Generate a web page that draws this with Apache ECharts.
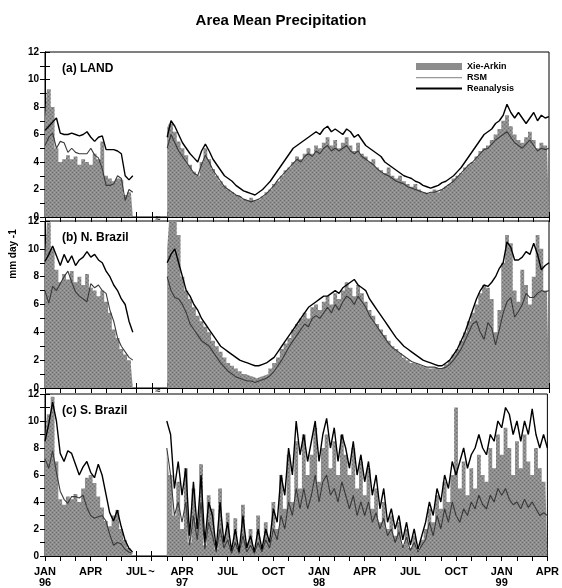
<!DOCTYPE html>
<html><head><meta charset="utf-8">
<script src="https://cdn.jsdelivr.net/npm/echarts@6/dist/echarts.min.js"></script>
<style>html,body{margin:0;padding:0;background:#fff}#c{width:562px;height:588px}</style>
</head><body><div id="c"></div>
<script>
// ---------- axis / labels ----------
const monthStep = 0.25;          // sampling step in months
const seg1Start = 0;             // JAN 96 on compressed axis
const seg2Start = 8;             // mid-MAR 97 on compressed axis (after break)
const tickPositions = [0, 3, 6, 7, 9, 12, 15, 18, 21, 24, 27, 30, 33];
const tickTexts = ['JAN\n96', 'APR', 'JUL', '~', 'APR\n97', 'JUL', 'OCT', 'JAN\n98', 'APR', 'JUL', 'OCT', 'JAN\n99', 'APR'];
const panelTitles = ['(a) LAND', '(b) N. Brazil', '(c) S. Brazil'];
const seriesNames = ['Xie-Arkin', 'RSM', 'Reanalysis'];

// ---------- (a) LAND ----------
const landXA1 = [7.2,9.3,8.0,5.0,4.0,4.2,4.5,4.2,4.4,3.8,4.2,4.0,3.8,4.6,4.2,5.5,3.0,2.8,2.6,2.8,2.7,1.6,1.8,1.7];
const landRE1 = [6.3,6.6,6.9,7.2,6.1,6.0,6.0,6.1,6.0,5.9,6.0,6.2,5.8,5.5,5.8,5.9,4.9,4.9,4.9,4.8,4.6,3.0,2.7,3.0];
const landRS1 = [5.2,5.8,6.1,5.0,5.5,5.4,4.7,5.0,4.7,4.6,4.6,4.6,5.0,4.5,4.3,3.5,2.3,2.3,2.4,3.0,2.8,1.2,2.0,1.8];
const landXA2 = [6.5,6.8,6.2,5.5, 5.0,4.5,3.8,3.3, 3.0,4.0,5.0,4.2, 3.5,3.0,2.6,2.3, 2.0,1.8,1.6,1.5, 1.3,1.2,1.4,1.2,
  1.3,1.5,1.8,2.0, 2.4,2.6,3.0,3.4, 3.6,4.0,4.4,4.2, 4.6,5.0,4.6,5.2, 5.0,5.4,5.8,5.2, 5.6,5.0,5.4,5.8, 5.2,4.8,5.4,4.6,
  4.4,4.0,4.2,3.6, 3.4,3.2,3.6,3.0, 2.8,3.0,2.6,2.4, 2.2,2.4,2.0,1.8, 1.7,1.8,2.0,1.8, 2.0,2.2,2.4,2.8, 3.0,3.2,3.6,3.8,
  4.0,4.4,4.8,5.0, 5.2,5.6,6.0,6.4, 7.0,7.4,6.6,6.0, 5.6,5.4,5.8,6.2, 5.6,5.0,5.4,5.2, 5.0];
const landRE2 = [5.8,7.0,6.6,6.0, 5.4,5.0,4.6,4.3, 4.0,4.8,5.3,4.8, 4.2,3.8,3.4,3.0, 2.8,2.6,2.3,2.1, 1.9,1.8,1.7,1.6,
  1.8,2.0,2.3,2.6, 3.0,3.4,3.8,4.2, 4.6,5.0,5.2,5.4, 5.6,5.8,6.0,6.2, 6.0,6.4,6.6,6.2, 6.4,6.2,6.0,6.4, 6.2,5.8,6.0,5.6,
  5.2,5.0,4.8,4.6, 4.4,4.0,3.8,3.6, 3.4,3.2,3.0,2.9, 2.8,2.6,2.5,2.3, 2.2,2.1,2.2,2.3, 2.5,2.6,2.8,3.0, 3.3,3.6,4.0,4.4,
  4.8,5.2,5.6,6.0, 6.2,6.4,6.8,7.0, 7.4,8.2,7.6,7.2, 7.6,7.2,6.8,7.2, 7.6,7.0,7.4,7.2, 7.3];
const landRS2 = [5.0,6.0,5.4,4.8, 4.4,4.0,3.6,3.2, 3.0,3.8,4.5,4.0, 3.4,3.0,2.6,2.2, 2.0,1.8,1.6,1.5, 1.3,1.2,1.1,1.2,
  1.3,1.5,1.7,2.0, 2.3,2.7,3.0,3.3, 3.6,3.9,4.2,4.0, 4.4,4.6,4.4,4.8, 4.6,5.0,5.2,4.8, 5.0,4.8,5.0,5.2, 4.8,4.6,4.8,4.4,
  4.2,4.0,3.8,3.5, 3.3,3.1,3.0,2.8, 2.6,2.5,2.4,2.2, 2.1,2.0,1.9,1.8, 1.7,1.8,1.8,1.9, 2.0,2.2,2.4,2.6, 2.9,3.2,3.5,3.8,
  4.0,4.3,4.6,4.9, 5.0,5.3,5.6,5.8, 6.0,6.2,5.8,5.4, 5.2,5.0,5.3,5.6, 5.2,4.8,5.0,4.9, 5.0];

// ---------- (b) N. Brazil ----------
const nbXA1 = [9.3,11.9,10.0,8.5,7.6,8.2,7.8,8.4,7.6,8.0,7.4,8.2,7.2,7.0,6.6,7.0,6.2,5.4,4.2,3.6,2.8,2.4,2.0,1.6];
const nbRE1 = [9.1,9.6,10.2,9.5,8.8,9.6,9.0,9.5,8.8,9.2,9.4,9.8,9.4,9.6,9.2,9.0,8.4,8.0,7.4,7.0,6.4,6.0,4.8,4.0];
const nbRS1 = [7.0,6.1,7.3,7.0,7.5,8.0,8.4,7.6,6.9,6.6,6.4,6.2,7.5,7.2,7.4,7.0,6.8,5.6,4.8,3.6,3.0,2.6,2.2,2.0];
const nbXA2 = [10.0,12.0,12.0,11.0, 8.0,7.0,6.4,5.8, 5.2,4.8,4.4,4.0, 3.4,3.0,2.6,2.2, 1.8,1.6,1.4,1.2, 1.0,0.9,0.8,0.7,
  0.8,0.9,1.0,1.4, 1.8,2.2,2.8,3.2, 3.6,4.2,4.6,5.0, 5.4,5.0,5.8,6.0, 5.6,6.2,6.6,6.0, 6.8,6.4,7.0,7.6, 7.2,6.6,7.4,6.8,
  6.2,5.6,5.2,4.6, 4.2,3.8,3.4,3.0, 2.8,2.5,2.2,2.0, 1.8,1.7,1.6,1.5, 1.4,1.4,1.5,1.4, 1.5,1.7,2.0,2.4, 2.8,3.4,4.0,4.8,
  5.4,6.0,6.8,7.4, 7.2,6.4,4.0,5.6, 9.0,11.0,10.4,7.0, 6.2,8.5,7.4,6.0, 8.0,11.0,10.0,7.0, 6.5];
const nbRE2 = [9.0,9.6,10.0,9.0, 8.0,7.0,6.6,6.0, 5.6,5.0,4.6,4.2, 3.8,3.4,3.0,2.8, 2.6,2.4,2.2,2.0, 1.9,1.8,1.7,1.6,
  1.6,1.7,1.8,2.0, 2.2,2.6,3.0,3.4, 3.8,4.2,4.6,5.0, 5.4,5.8,6.0,6.2, 6.4,6.6,6.6,6.8, 7.0,6.8,7.2,7.4, 7.6,7.8,7.4,7.2,
  7.0,6.4,6.0,5.6, 5.2,4.8,4.4,4.0, 3.6,3.3,3.0,2.8, 2.6,2.4,2.2,2.0, 1.9,1.8,1.7,1.6, 1.6,1.8,2.0,2.4, 2.8,3.4,4.0,4.8,
  5.6,6.4,7.0,7.4, 7.3,7.6,8.0,8.6, 9.0,10.5,10.1,9.2, 9.2,9.4,9.8,9.6, 10.4,9.6,8.5,8.8, 9.0];
const nbRS2 = [8.0,7.0,6.5,6.4, 6.0,5.4,4.6,4.2, 3.8,3.4,3.2,3.0, 2.6,2.2,1.8,1.5, 1.2,1.0,0.8,0.7, 0.6,0.5,0.5,0.4,
  0.5,0.6,0.7,0.9, 1.2,1.6,2.0,2.5, 3.0,3.4,3.8,4.2, 4.6,4.4,5.0,5.2, 5.0,5.4,5.8,5.4, 6.0,5.6,6.2,6.6, 6.4,6.0,6.6,6.2,
  5.8,5.2,4.8,4.4, 4.0,3.6,3.2,2.9, 2.7,2.5,2.3,2.1, 1.9,1.8,1.7,1.6, 1.5,1.5,1.5,1.4, 1.4,1.5,1.7,2.0, 2.4,2.8,3.4,4.0,
  4.6,4.8,4.0,3.5, 4.7,4.3,3.1,4.2, 5.4,6.2,6.5,5.1, 5.5,6.0,6.8,6.5, 6.5,6.8,7.0,6.9, 7.0];

// ---------- (c) S. Brazil ----------
const sbXA1 = [8.5,10.5,11.8,7.0,4.2,3.8,4.4,4.2,4.6,4.0,5.0,5.8,6.0,5.4,4.4,3.6,2.6,2.2,3.0,3.4,2.0,1.2,0.6,0.3];
const sbRE1 = [8.5,9.8,11.4,10.0,7.6,7.0,7.8,7.6,6.8,6.0,6.6,7.0,6.2,5.8,6.8,6.0,4.6,3.2,2.6,3.4,2.2,1.2,0.6,0.3];
const sbRS1 = [7.2,6.5,7.8,6.2,4.8,4.2,3.9,4.4,4.4,4.3,4.5,3.6,3.0,2.8,2.9,3.0,2.6,1.6,0.8,1.0,0.9,0.5,0.3,0.2];
const sbXA2 = [8.0,6.0,3.0,5.5, 2.0,6.5,1.0,5.0, 2.5,6.8,0.8,4.5, 3.5,0.5,5.0,1.5, 3.2,0.6,2.8,0.5, 3.8,1.0,2.0,0.4,
  3.0,0.8,2.5,1.2, 4.0,2.0,6.0,3.5, 7.5,4.0,8.5,5.0, 9.0,6.0,7.5,9.5, 5.5,8.0,9.0,6.5, 8.5,6.0,9.0,7.5, 6.0,8.0,5.0,7.0,
  4.5,6.5,3.5,5.0, 2.5,4.0,2.0,3.0, 1.5,2.5,0.8,2.0, 0.6,1.5,0.4,1.2, 2.0,3.5,2.5,4.5, 3.5,5.5,4.0,6.0, 11.0,5.0,7.0,4.5,
  6.5,5.0,7.5,6.0, 5.5,8.0,6.5,9.0, 7.5,9.5,8.0,6.0, 8.5,6.5,9.0,7.0, 6.0,8.0,6.5,5.5, 5.0];
const sbRE2 = [10.0,9.0,5.0,7.0, 4.5,6.5,1.5,5.5, 2.0,6.0,1.0,4.0, 3.0,0.5,4.0,1.0, 2.5,0.4,2.0,0.3, 3.0,0.6,1.5,0.3,
  2.0,0.5,2.0,1.0, 3.5,2.5,6.0,4.5, 8.0,6.0,10.0,7.5, 9.0,7.0,8.5,10.0, 7.0,9.0,10.2,8.0, 9.5,7.0,9.0,8.0, 6.5,8.5,6.0,7.5,
  5.5,7.0,4.5,6.0, 3.5,5.0,2.5,3.5, 2.0,3.0,1.2,2.5, 0.8,2.0,0.5,1.5, 2.5,4.0,3.0,5.0, 4.0,6.0,5.0,7.0, 6.0,7.0,8.0,6.5,
  7.5,8.0,9.0,8.0, 7.5,9.0,8.5,10.0, 9.5,11.0,10.5,9.0, 10.0,8.5,10.0,9.0, 10.9,9.0,8.0,9.0, 8.0];
const sbRS2 = [8.0,6.0,3.0,4.0, 2.5,4.0,0.8,3.0, 1.2,4.0,0.5,2.5, 1.5,0.3,2.0,0.6, 1.2,0.2,1.0,0.2, 1.5,0.3,0.8,0.2,
  1.0,0.3,1.2,0.6, 2.0,1.2,3.0,2.0, 4.0,3.0,5.0,3.5, 5.0,3.5,4.5,6.0, 4.0,5.5,6.0,4.5, 5.0,4.0,5.5,4.5, 3.5,4.5,3.0,4.0,
  3.0,4.0,2.5,3.2, 2.0,2.8,1.5,2.0, 1.0,1.8,0.6,1.4, 0.4,1.0,0.3,0.8, 1.2,2.5,1.5,3.0, 2.0,3.5,2.5,4.0, 3.0,2.5,3.5,3.0,
  4.0,3.5,4.5,3.8, 3.5,4.5,4.0,5.0, 4.5,5.0,4.2,3.8, 4.0,3.5,4.2,3.6, 4.0,3.5,3.0,3.2, 3.0];

const panels = [
  {xa: [landXA1, landXA2], rs: [landRS1, landRS2], re: [landRE1, landRE2]},
  {xa: [nbXA1, nbXA2], rs: [nbRS1, nbRS2], re: [nbRE1, nbRE2]},
  {xa: [sbXA1, sbXA2], rs: [sbRS1, sbRS2], re: [sbRE1, sbRE2]}
];
const segStarts = [seg1Start, seg2Start];
const pairs = (vals, start) => vals.map((v, i) => [start + i * monthStep, v]);

// dithered gray texture
const pc = document.createElement('canvas');
pc.width = 4; pc.height = 4;
const pctx = pc.getContext('2d');
pctx.fillStyle = '#8e8e8e'; pctx.fillRect(0, 0, 4, 4);
pctx.fillStyle = '#6c6c6c'; pctx.fillRect(0, 0, 1, 1); pctx.fillRect(2, 2, 1, 1);
pctx.fillStyle = '#a4a4a4'; pctx.fillRect(2, 0, 1, 1); pctx.fillRect(0, 2, 1, 1);

const gridsPos = [{top: 52, height: 165}, {top: 221, height: 167}, {top: 394, height: 166}];
const FONT = 'Liberation Sans, Arial, sans-serif';

const grid = [], xAxis = [], yAxis = [], series = [], graphic = [];
gridsPos.forEach((g, i) => {
  grid.push({left: 45, right: 13, top: g.top, height: g.height, show: true, borderColor: '#000', borderWidth: 1, backgroundColor: '#fff'});
  const isBottom = i === 2;
  const baseX = {
    type: 'value', gridIndex: i, min: 0, max: 33, interval: 1,
    axisLine: {show: true, lineStyle: {color: '#000', width: 1}},
    axisTick: {show: true, inside: true, length: 5, lineStyle: {color: '#000'}},
    splitLine: {show: false}
  };
  xAxis.push(Object.assign({}, baseX, {
    position: 'bottom',
    axisLabel: {
      show: isBottom, margin: 10, fontFamily: FONT, fontWeight: 'bold', fontSize: 11, color: '#000', lineHeight: 11,
      formatter: v => { const k = tickPositions.indexOf(v); return k >= 0 ? tickTexts[k] : ''; }
    }
  }));
  xAxis.push(Object.assign({}, baseX, {position: 'top', axisLabel: {show: false}}));
  const baseY = {
    type: 'value', gridIndex: i, min: 0, max: 12, interval: 1,
    axisLine: {show: true, lineStyle: {color: '#000'}},
    axisTick: {show: true, inside: true, length: 5, lineStyle: {color: '#000'}},
    splitLine: {show: false}
  };
  yAxis.push(Object.assign({}, baseY, {
    position: 'left',
    axisLabel: {margin: 6, fontFamily: FONT, fontWeight: 'bold', fontSize: 10, color: '#000',
      formatter: v => (v % 2 === 0 ? String(v) : '')}
  }));
  yAxis.push(Object.assign({}, baseY, {position: 'right', axisLabel: {show: false}}));

  const p = panels[i];
  [0, 1].forEach(s => {
    series.push({
      name: seriesNames[0], type: 'line', xAxisIndex: 2 * i, yAxisIndex: 2 * i, step: 'middle',
      symbol: 'none', color: '#8c8c8c', lineStyle: {width: 0},
      areaStyle: {color: {image: pc, repeat: 'repeat'}, opacity: 1},
      data: pairs(p.xa[s], segStarts[s]), z: 2
    });
    series.push({
      name: seriesNames[1], type: 'line', xAxisIndex: 2 * i, yAxisIndex: 2 * i, symbol: 'none',
      color: '#3a3a3a', lineStyle: {width: 1.1, color: '#3a3a3a'}, data: pairs(p.rs[s], segStarts[s]), z: 3
    });
    series.push({
      name: seriesNames[2], type: 'line', xAxisIndex: 2 * i, yAxisIndex: 2 * i, symbol: 'none',
      color: '#000', lineStyle: {width: 1.4, color: '#000'}, data: pairs(p.re[s], segStarts[s]), z: 4
    });
  });

  graphic.push({type: 'text', left: 62, top: g.top + 11, z: 10,
    style: {text: panelTitles[i], font: 'bold 12px ' + FONT, fill: '#000'}});
});

// axis-break marks between panels
[219, 391].forEach(y => graphic.push({type: 'text', x: 158, y: y, z: 20,
  style: {text: '≈', font: 'bold 9px ' + FONT, fill: '#000', align: 'center', verticalAlign: 'middle'}}));

// y-axis unit label
graphic.push({type: 'text', x: 13, y: 254, rotation: Math.PI / 2, z: 10,
  style: {text: 'mm day -1', font: 'bold 10px ' + FONT, fill: '#000', align: 'center', verticalAlign: 'middle'}});

const chart = echarts.init(document.getElementById('c'), null, {renderer: 'canvas'});
chart.setOption({
  animation: false,
  backgroundColor: '#fff',
  title: {text: 'Area Mean Precipitation', left: 'center', top: 8,
    textStyle: {fontFamily: FONT, fontWeight: 'bold', fontSize: 15, color: '#000'}},
  legend: {
    orient: 'vertical', left: 416, top: 62, padding: 0, itemGap: 2, itemWidth: 46, itemHeight: 7,
    itemStyle: {borderWidth: 0},
    textStyle: {fontFamily: FONT, fontWeight: 'bold', fontSize: 9, color: '#000', lineHeight: 8},
    data: [
      {name: 'Xie-Arkin', icon: 'rect'},
      {name: 'RSM', icon: 'path://M0,0L0,0M0,7L0,7M0,3L46,3L46,4.2L0,4.2Z', itemStyle: {color: '#999'}},
      {name: 'Reanalysis', icon: 'path://M0,0L0,0M0,7L0,7M0,2.6L46,2.6L46,4.6L0,4.6Z', itemStyle: {color: '#000'}}
    ]
  },
  grid, xAxis, yAxis, series, graphic
});
</script></body></html>
